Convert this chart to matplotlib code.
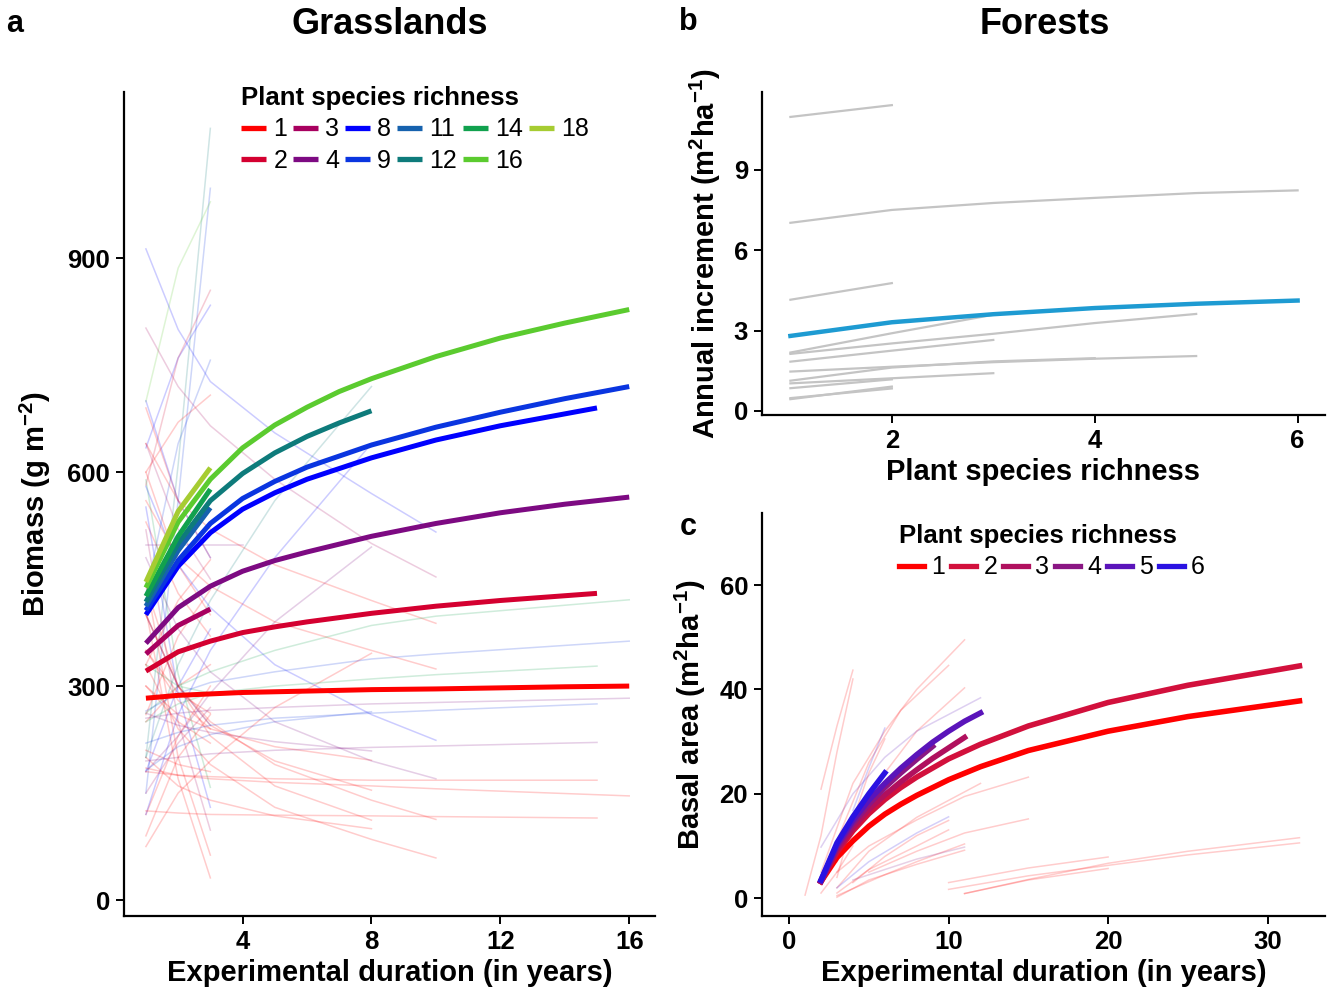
import matplotlib
matplotlib.use("Agg")
import matplotlib.pyplot as plt

plt.rcParams['font.family'] = ['Liberation Sans', 'DejaVu Sans']
plt.rcParams['mathtext.fontset'] = 'custom'
plt.rcParams['mathtext.rm'] = 'Liberation Sans:bold'
plt.rcParams['mathtext.it'] = 'Liberation Sans:bold'
plt.rcParams['mathtext.bf'] = 'Liberation Sans:bold'
plt.rcParams['mathtext.default'] = 'rm'

# ---- Panel a: grasslands, thick fitted curves per richness level ----
grass_rich = [1, 2, 3, 4, 8, 9, 11, 12, 14, 16, 18]
grass_colors = ['#FF0000', '#D40030', '#A8005F', '#7D0A82', '#0000FF', '#0A35E0',
                '#1662AE', '#0E7B7B', '#11A14E', '#5BCB2F', '#A6CC32']
grass_x = [
    [1, 2, 3, 4, 5, 6, 8, 10, 12, 14, 16],
    [1, 2, 3, 4, 5, 6, 8, 10, 12, 15],
    [1, 2, 3],
    [1, 2, 3, 4, 5, 6, 8, 10, 12, 14, 16],
    [1, 2, 3, 4, 5, 6, 8, 10, 12, 15],
    [1, 2, 3, 4, 5, 6, 8, 10, 12, 14, 16],
    [1, 2, 3],
    [1, 2, 3, 4, 5, 6, 7, 8],
    [1, 2, 3],
    [1, 2, 3, 4, 5, 6, 7, 8, 10, 12, 14, 16],
    [1, 2, 3],
]
grass_y = [
    [283, 287, 289, 291, 292, 293, 295, 296, 297.5, 299, 300],
    [321, 348, 363, 375, 383, 390, 402, 412, 420, 430],
    [345, 385, 408],
    [360, 410, 440, 461, 476, 488, 510, 528, 543, 555, 565],
    [400, 468, 515, 548, 571, 590, 620, 645, 665, 690],
    [406, 476, 528, 563, 587, 607, 638, 663, 684, 703, 720],
    [412, 490, 550],
    [418, 500, 560, 598, 627, 650, 669, 686],
    [426, 510, 576],
    [438, 530, 590, 634, 666, 691, 713, 731, 762, 788, 809, 828],
    [446, 545, 606],
]

# thin lines: individual experiments (richness, years, biomass)
grass_thin = [
    (12, [1, 2, 3], [200, 610, 1082]),
    (9, [1, 2, 3], [150, 560, 998]),
    (16, [1, 2, 3], [699, 886, 979]),
    (8, [1, 2, 3, 5, 8, 10], [913, 800, 727, 655, 570, 516]),
    (3, [1, 2, 3, 5, 8, 10], [802, 720, 665, 590, 500, 453]),
    (8, [1, 2, 3], [634, 760, 834]),
    (9, [1, 2, 3], [430, 640, 757]),
    (2, [1, 2, 3], [582, 760, 855]),
    (1, [1, 2, 3], [600, 670, 708]),
    (1, [1, 2, 3], [690, 560, 480]),
    (1, [1, 2, 3], [600, 470, 400]),
    (3, [1, 2, 3], [640, 520, 450]),
    (8, [1, 2, 3], [700, 560, 480]),
    (1, [1, 2, 3], [530, 430, 370]),
    (14, [1, 2, 3], [589, 317, 158]),
    (8, [1, 2, 3], [551, 290, 130]),
    (3, [1, 2, 3], [519, 250, 98]),
    (1, [1, 2, 3], [449, 200, 63]),
    (1, [1, 2, 3], [407, 170, 31]),
    (9, [1, 2, 3], [400, 300, 245]),
    (1, [1, 2, 3], [350, 290, 262]),
    (1, [1, 2, 3], [330, 420, 477]),
    (1, [1, 2, 3], [260, 370, 435]),
    (4, [1, 2, 3, 4], [498, 498, 498, 498]),
    (1, [1, 2, 3], [120, 230, 300]),
    (1, [1, 2, 3], [90, 200, 260]),
    (3, [1, 2, 3], [150, 220, 270]),
    (8, [1, 2, 3], [180, 300, 380]),
    (1, [1, 2, 3], [250, 300, 330]),
    (1, [1, 2, 3], [300, 250, 220]),
    (1, [1, 2, 3], [350, 280, 240]),
    (1, [1, 2, 3], [210, 190, 180]),
    (14, [1, 2, 3], [330, 300, 290]),
    (8, [1, 2, 3, 5, 8], [120, 260, 350, 480, 640]),
    (12, [1, 2, 3, 5, 8], [200, 330, 420, 560, 720]),
    (4, [1, 2, 3, 5, 8], [180, 230, 290, 390, 495]),
    (1, [1, 2, 3, 5, 8], [75, 150, 195, 270, 346]),
    (9, [1, 2, 3, 5, 8], [182, 215, 232, 250, 264]),
    (4, [1, 2, 3, 5, 8], [262, 245, 235, 222, 209]),
    (1, [1, 2, 3, 5, 8], [300, 260, 240, 215, 196]),
    (1, [1, 2, 3, 5, 8], [400, 300, 245, 195, 154]),
    (1, [1, 2, 3, 5, 8], [440, 300, 230, 160, 112]),
    (1, [1, 2, 3, 5, 8], [200, 160, 140, 118, 100]),
    (1, [1, 2, 3, 5, 8, 10], [640, 560, 520, 470, 420, 388]),
    (1, [1, 2, 3, 5, 8, 10], [560, 480, 440, 390, 350, 324]),
    (8, [1, 2, 3, 5, 8, 10], [580, 470, 410, 330, 260, 224]),
    (4, [1, 2, 3, 5, 8, 10], [480, 380, 320, 250, 195, 170]),
    (1, [1, 2, 3, 5, 8, 10], [400, 300, 250, 190, 140, 113]),
    (1, [1, 2, 3, 5, 8, 10], [330, 240, 190, 130, 85, 59]),
    (14, [1, 2, 3, 5, 8, 10, 15], [250, 275, 290, 300, 310, 316, 328]),
    (9, [1, 2, 3, 5, 8, 10, 15], [220, 235, 245, 255, 262, 266, 275]),
    (4, [1, 2, 3, 5, 8, 10, 15], [195, 200, 205, 210, 214, 216, 221]),
    (1, [1, 2, 3, 5, 8, 10, 15], [180, 175, 173, 170, 168, 168, 168]),
    (1, [1, 2, 3, 5, 8, 10, 15], [125, 122, 120, 119, 118, 117, 115]),
    (14, [1, 2, 3, 5, 8, 10, 16], [262, 300, 320, 350, 385, 398, 421]),
    (9, [1, 2, 3, 5, 8, 10, 16], [265, 290, 305, 320, 338, 345, 363]),
    (4, [1, 2, 3, 5, 8, 10, 16], [255, 262, 266, 270, 275, 277, 283]),
    (1, [1, 2, 3, 5, 8, 10, 16], [185, 175, 170, 165, 160, 156, 146]),
]

# ---- Panel b: forests, annual increment vs richness ----
inc_x = [1, 2, 3, 4, 5, 6]
inc_mean = [2.80, 3.31, 3.61, 3.84, 4.00, 4.12]
inc_thin = [
    ([1, 2], [10.97, 11.41]),
    ([1, 2, 3, 4, 5, 6], [7.02, 7.50, 7.76, 7.95, 8.13, 8.23]),
    ([1, 2], [4.15, 4.77]),
    ([1, 2, 3], [2.18, 2.90, 3.59]),
    ([1, 2, 3, 4, 5], [2.13, 2.52, 2.88, 3.28, 3.62]),
    ([1, 2, 3], [1.84, 2.25, 2.65]),
    ([1, 2, 3, 4, 5], [1.47, 1.65, 1.82, 1.95, 2.05]),
    ([1, 2, 3, 4], [1.13, 1.62, 1.85, 1.97]),
    ([1, 2, 3], [1.03, 1.22, 1.41]),
    ([1, 2], [0.85, 1.18]),
    ([1, 2], [0.44, 0.91]),
    ([1, 2], [0.48, 0.84]),
]

# ---- Panel c: forests, basal area vs duration ----
basal_rich = [1, 2, 3, 4, 5, 6]
basal_colors = ['#FF0000', '#D2103C', '#B0105E', '#8A1683', '#5A14BA', '#2A12E2']
basal_x = [
    [2, 3, 4, 5, 6, 7, 8, 10, 12, 15, 20, 25, 32],
    [2, 3, 4, 5, 6, 7, 8, 10, 12, 15, 20, 25, 32],
    [2, 3, 4, 5, 6, 7, 8, 9, 10, 11],
    [2, 3, 4, 5, 6, 7, 8, 9],
    [2, 3, 4, 5, 6, 7, 8, 9, 10, 11, 12],
    [2, 3, 4, 5, 6],
]
basal_y = [
    [3.2, 7.8, 11.0, 13.8, 16.1, 18.0, 19.7, 22.7, 25.2, 28.3, 32.0, 34.8, 37.8],
    [3.2, 8.8, 12.9, 16.2, 18.9, 21.2, 23.2, 26.7, 29.5, 33.0, 37.5, 40.8, 44.5],
    [3.2, 9.3, 13.5, 17.0, 19.8, 22.3, 24.6, 26.8, 28.8, 30.8],
    [3.3, 9.8, 14.3, 18.0, 21.2, 24.0, 26.6, 29.1],
    [3.4, 10.2, 14.9, 18.8, 22.0, 24.9, 27.5, 29.9, 32.0, 33.9, 35.5],
    [3.5, 10.6, 15.6, 20.0, 24.0],
]
basal_thin = [
    (1, [2, 3, 4], [20.9, 33, 43.7]),
    (1, [1, 2, 3, 4], [0.6, 12, 28, 42]),
    (1, [2, 4, 6, 8, 11], [5, 22, 32, 40, 49.5]),
    (1, [3, 5, 7, 10], [11, 26, 36, 44.6]),
    (1, [3, 5, 8, 11], [7, 20, 32, 40.3]),
    (5, [2, 4, 6, 8, 12], [9.8, 20, 27, 32, 38.4]),
    (6, [4, 5, 6], [16.8, 25, 32.6]),
    (1, [3, 4, 5, 6], [4, 15, 24, 30.5]),
    (1, [3, 5, 8, 11, 15], [5, 10, 15, 19.5, 23.2]),
    (1, [5, 8, 11, 15], [5, 9, 12.5, 15.2]),
    (1, [3, 5, 8, 12], [2, 9, 15.5, 22]),
    (6, [3, 5, 8, 10], [2, 7, 12.5, 15.6]),
    (1, [4, 6, 8, 10], [3, 8, 12, 14.9]),
    (1, [3, 5, 8, 10], [1, 5.5, 10, 13.1]),
    (1, [3, 6, 8, 11], [0.5, 4.5, 7, 10.4]),
    (4, [4, 6, 8, 11], [3.5, 5.5, 7.5, 9.8]),
    (1, [3, 5, 8, 11], [0.2, 3.5, 6.5, 9.2]),
    (1, [2, 3, 4], [1, 5, 10]),
    (1, [10, 15, 20], [3.0, 5.8, 7.9]),
    (1, [10, 15, 20, 25, 32], [1.7, 4.3, 6.3, 8.3, 10.6]),
    (1, [11, 15, 20, 25, 32], [0.9, 3.6, 6.7, 9.0, 11.6]),
    (1, [11, 15, 20], [0.9, 3.5, 5.7]),
]

W, H = 1336, 994
fig = plt.figure(figsize=(W / 100, H / 100), dpi=100)


def style_axes(ax):
    for side in ['top', 'right']:
        ax.spines[side].set_visible(False)
    for side in ['left', 'bottom']:
        ax.spines[side].set_linewidth(1.6)
    ax.tick_params(width=1.4, length=6, labelsize=18.5, pad=4)
    for lab in ax.get_xticklabels() + ax.get_yticklabels():
        lab.set_fontweight('bold')


def box(l, t, r, b):
    return [l / W, 1 - b / H, (r - l) / W, (b - t) / H]


def add_legend(ax, x_px, y_px):
    leg = ax.legend(ncol=6, frameon=False, loc='upper left',
                    bbox_to_anchor=(x_px / W, 1 - y_px / H), bbox_transform=fig.transFigure,
                    title='Plant species richness', fontsize=18,
                    title_fontproperties={'weight': 'bold', 'size': 18.5},
                    handlelength=1.0, handletextpad=0.3, columnspacing=0.22,
                    labelspacing=0.3, borderpad=0, borderaxespad=0)
    leg._legend_box.align = 'left'
    for h in leg.get_lines():
        h.set_linewidth(3.8)
    return leg


# panel a
ax_a = fig.add_axes(box(124, 92, 655, 916))
col_a = dict(zip(grass_rich, grass_colors))
for rich, xs, ys in grass_thin:
    ax_a.plot(xs, ys, color=col_a[rich], alpha=0.2, lw=1.1)
for rich, c, xs, ys in zip(grass_rich, grass_colors, grass_x, grass_y):
    ax_a.plot(xs, ys, color=c, lw=3.6, solid_capstyle='butt', label=str(rich))
ax_a.set_xlim(0.32, 16.8)
ax_a.set_ylim(-22.4, 1133)
ax_a.set_xticks([4, 8, 12, 16])
ax_a.set_yticks([0, 300, 600, 900])
ax_a.set_xlabel('Experimental duration (in years)', fontsize=21, fontweight='bold')
ax_a.set_ylabel(r'Biomass (g m$^{-2}$)', fontsize=21, fontweight='bold', labelpad=10)
style_axes(ax_a)
add_legend(ax_a, 241, 86)

# panel b
ax_b = fig.add_axes(box(762, 92, 1325, 415))
for xs, ys in inc_thin:
    ax_b.plot(xs, ys, color='#C4C4C4', lw=1.6)
ax_b.plot(inc_x, inc_mean, color='#1E9BD2', lw=3.2)
ax_b.set_xlim(0.72, 6.27)
ax_b.set_ylim(-0.15, 11.9)
ax_b.set_xticks([2, 4, 6])
ax_b.set_yticks([0, 3, 6, 9])
ax_b.set_xlabel('Plant species richness', fontsize=21, fontweight='bold')
ax_b.set_ylabel(r'Annual increment (m$^{2}$ha$^{-1}$)', fontsize=21, fontweight='bold',
                labelpad=8)
style_axes(ax_b)

# panel c
ax_c = fig.add_axes(box(762, 513, 1325, 916))
col_c = dict(zip(basal_rich, basal_colors))
for rich, xs, ys in basal_thin:
    ax_c.plot(xs, ys, color=col_c[rich], alpha=0.2, lw=1.1)
for rich, c, xs, ys in zip(basal_rich, basal_colors, basal_x, basal_y):
    ax_c.plot(xs, ys, color=c, lw=4, label=str(rich))
ax_c.set_xlim(-1.7, 33.6)
ax_c.set_ylim(-3.4, 73.8)
ax_c.set_xticks([0, 10, 20, 30])
ax_c.set_yticks([0, 20, 40, 60])
ax_c.set_xlabel('Experimental duration (in years)', fontsize=21, fontweight='bold')
ax_c.set_ylabel(r'Basal area (m$^{2}$ha$^{-1}$)', fontsize=21, fontweight='bold', labelpad=8)
style_axes(ax_c)
add_legend(ax_c, 899, 524)

# titles and panel letters
fig.text(390 / W, 1 - 25 / H, 'Grasslands', ha='center', va='center', fontsize=26,
         fontweight='bold')
fig.text(1045 / W, 1 - 25 / H, 'Forests', ha='center', va='center', fontsize=26,
         fontweight='bold')
fig.text(15 / W, 1 - 24 / H, 'a', ha='center', va='center', fontsize=22, fontweight='bold')
fig.text(688 / W, 1 - 22 / H, 'b', ha='center', va='center', fontsize=22, fontweight='bold')
fig.text(688 / W, 1 - 527 / H, 'c', ha='center', va='center', fontsize=22, fontweight='bold')

fig.savefig('out.png', dpi=100)
